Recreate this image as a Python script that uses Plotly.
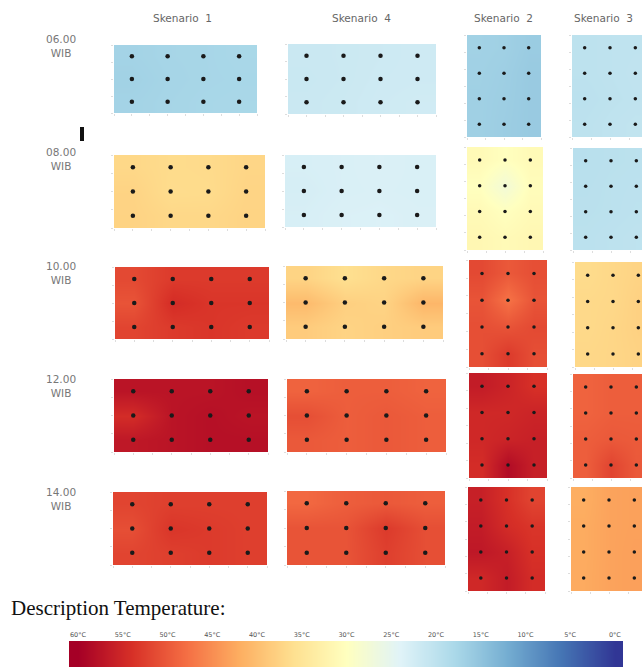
import plotly.graph_objects as go

W, H = 642, 669

# ---------------- data ----------------
scenarios = ["Skenario\u00a0\u00a01", "Skenario\u00a0\u00a04", "Skenario\u00a0\u00a02", "Skenario\u00a0\u00a03"]
times = ["06.00<br>WIB", "08.00<br>WIB", "10.00<br>WIB", "12.00<br>WIB", "14.00<br>WIB"]

# landscape sensor grid (4 columns x 3 rows), portrait grid (3 columns x 4 rows)
land_x = [1, 3, 5, 7]
land_y = [5, 3, 1]          # top -> bottom
port_x = [1, 3, 5]
port_y = [7, 5, 3, 1]       # top -> bottom

# temperatures (deg C) at sensors, rows listed top -> bottom
s1 = [
    [[17.2, 17.5, 17.6, 17.8], [17.0, 17.4, 17.6, 17.7], [17.2, 17.5, 17.7, 17.8]],
    [[37.0, 36.5, 36.6, 37.2], [37.5, 36.4, 36.5, 37.4], [37.6, 37.0, 37.0, 37.5]],
    [[51.5, 53.0, 53.0, 53.0], [50.5, 54.5, 53.5, 53.5], [52.0, 53.0, 53.5, 53.0]],
    [[57.5, 57.5, 57.5, 58.0], [54.5, 57.5, 58.0, 57.5], [57.0, 57.5, 58.0, 58.0]],
    [[52.0, 52.5, 52.5, 52.5], [51.0, 53.5, 53.0, 52.5], [52.0, 52.5, 53.0, 52.5]],
]
s4 = [
    [[21.5, 21.6, 21.8, 22.0], [21.4, 21.6, 21.9, 22.0], [21.5, 21.7, 22.0, 22.2]],
    [[23.0, 23.2, 23.4, 23.2], [22.8, 23.2, 23.3, 23.2], [23.0, 23.4, 23.5, 23.3]],
    [[37.5, 36.0, 37.0, 37.5], [40.5, 38.0, 37.5, 41.0], [38.5, 37.5, 38.0, 38.5]],
    [[49.0, 49.5, 49.5, 49.0], [51.0, 49.5, 50.0, 49.5], [50.0, 49.5, 50.0, 49.5]],
    [[48.5, 49.5, 50.0, 49.5], [50.5, 50.5, 53.0, 51.0], [50.5, 50.5, 52.5, 51.0]],
]
s2 = [
    [[17.0, 16.8, 16.2], [16.9, 16.6, 16.0], [16.8, 16.5, 16.0], [16.8, 16.4, 16.0]],
    [[31.0, 30.0, 31.0], [30.0, 27.5, 30.5], [31.0, 30.0, 31.0], [31.5, 31.0, 31.5]],
    [[51.5, 50.0, 51.0], [50.5, 47.5, 50.5], [51.0, 50.5, 51.5], [51.0, 53.0, 51.0]],
    [[56.5, 55.5, 54.0], [55.0, 55.0, 55.5], [55.0, 55.5, 56.0], [54.5, 58.5, 56.0]],
    [[56.0, 54.0, 52.0], [56.5, 54.5, 53.5], [57.0, 56.0, 54.0], [55.0, 56.5, 54.5]],
]
s3 = [
    [[20.0, 20.2, 20.3], [20.0, 20.2, 20.4], [19.8, 20.1, 20.3], [20.0, 20.3, 20.5]],
    [[19.5, 19.7, 19.8], [19.6, 19.8, 19.9], [19.7, 19.8, 20.0], [19.8, 20.0, 20.2]],
    [[36.5, 37.0, 37.5], [36.8, 37.0, 37.8], [36.8, 37.2, 37.8], [37.0, 37.2, 37.6]],
    [[49.0, 49.5, 49.5], [49.0, 49.5, 49.5], [49.5, 50.0, 49.8], [49.5, 52.0, 50.0]],
    [[42.0, 43.0, 43.2], [42.2, 43.0, 43.2], [42.2, 43.0, 43.3], [42.3, 43.0, 43.3]],
]
panel_values = [s1, s4, s2, s3]

legend_temps = [60, 55, 50, 45, 40, 35, 30, 25, 20, 15, 10, 5, 0]
legend_labels = ["60°C", "55°C", "50°C", "45°C", "40°C", "35°C", "30°C",
                 "25°C", "20°C", "15°C", "10°C", "5°C", "0°C"]

# ---------------- layout geometry (pixels) ----------------
# per column, per row: (x0, x1, y0, y1)
boxes = [
    [(114, 257, 45, 113), (114, 265, 155, 228), (115, 269, 267, 339), (114, 268, 379, 452), (113, 267, 492, 565)],
    [(288, 436, 44, 114), (285, 436, 155, 227), (286, 443, 266, 339), (287, 446, 379, 452), (287, 445, 491, 565)],
    [(467, 541, 35, 137), (467, 543, 147, 250), (469, 547, 260, 367), (469, 547, 373, 478), (468, 545, 487, 591)],
    [(572, 648, 35, 137), (573, 649, 148, 250), (575, 651, 262, 367), (573, 649, 374, 478), (571, 647, 487, 591)],
]

def px(x):
    return x / W

def py(y):
    return 1 - y / H

fig = go.Figure()
layout = {}
n = 0
for c in range(4):
    landscape = c < 2
    sx = land_x if landscape else port_x
    sy = land_y if landscape else port_y
    xmax = 8 if landscape else 6
    ymax = 6 if landscape else 8
    for r in range(5):
        n += 1
        ax = "" if n == 1 else str(n)
        x0, x1, y0, y1 = boxes[c][r]
        vis_x1 = min(x1, W)
        xr = xmax * (vis_x1 - x0) / (x1 - x0)
        z = panel_values[c][r]
        fig.add_trace(go.Heatmap(
            x=sx, y=sy[::-1], z=z[::-1],
            zmin=0, zmax=60, colorscale="RdYlBu", reversescale=True,
            zsmooth="best", showscale=False, hoverinfo="skip",
            xaxis="x" + ax, yaxis="y" + ax))
        dx = [x for _ in sy for x in sx]
        dy = [y for y in sy for _ in sx]
        fig.add_trace(go.Scatter(
            x=dx, y=dy, mode="markers",
            marker=dict(color="#1a1a1a", size=4.5 if landscape else 3.5),
            hoverinfo="skip", showlegend=False,
            xaxis="x" + ax, yaxis="y" + ax))
        layout["xaxis" + ax] = dict(
            domain=[px(x0), px(vis_x1)], range=[0, xr], anchor="y" + ax,
            showgrid=False, zeroline=False, showticklabels=False,
            ticks="outside", ticklen=2, tickcolor="#dddddd", dtick=1 if landscape else 1.5,
            showline=False, fixedrange=True)
        layout["yaxis" + ax] = dict(
            domain=[py(y1), py(y0)], range=[0, ymax], anchor="x" + ax,
            showgrid=False, zeroline=False, showticklabels=False,
            ticks="outside", ticklen=2, tickcolor="#dddddd", dtick=1.5 if landscape else 1.33,
            showline=False, fixedrange=True)

# legend colour bar as its own axes
n += 1
ax = str(n)
cb_x0, cb_x1, cb_y0, cb_y1 = 69, 623, 641, 667
fig.add_trace(go.Heatmap(
    x=legend_temps, y=[0], z=[legend_temps],
    zmin=0, zmax=60, colorscale="RdYlBu", reversescale=True,
    zsmooth="best", showscale=False, hoverinfo="skip",
    xaxis="x" + ax, yaxis="y" + ax))
layout["xaxis" + ax] = dict(
    domain=[px(cb_x0), px(cb_x1)], range=[61, -0.9], anchor="y" + ax,
    side="top", tickvals=legend_temps, ticktext=legend_labels,
    tickfont=dict(size=6.5, color="#555555", family="DejaVu Sans"),
    ticklabelstandoff=2,
    showgrid=False, zeroline=False, ticks="", showline=False, fixedrange=True)
layout["yaxis" + ax] = dict(
    domain=[py(cb_y1), py(cb_y0)], range=[-0.5, 0.5], anchor="x" + ax,
    showgrid=False, zeroline=False, showticklabels=False, ticks="",
    showline=False, fixedrange=True)

annotations = []
title_pos = [183, 361, 503, 603]
for name, cx in zip(scenarios, title_pos):
    annotations.append(dict(
        text=name, x=px(cx), y=py(18), xref="paper", yref="paper",
        showarrow=False, xanchor="center", yanchor="middle",
        font=dict(family="DejaVu Sans", size=10.5, color="#666666")))
row_y = [46, 159, 273, 386, 499]
for t, ry in zip(times, row_y):
    annotations.append(dict(
        text=t, x=px(61), y=py(ry), xref="paper", yref="paper",
        showarrow=False, xanchor="center", yanchor="middle",
        font=dict(family="DejaVu Sans", size=10.5, color="#777777")))
annotations.append(dict(
    text="Description Temperature:", x=px(9), y=py(608), xref="paper", yref="paper",
    showarrow=False, xanchor="left", yanchor="middle",
    font=dict(family="Liberation Serif", size=21, color="#111111")))

shapes = [dict(type="rect", xref="paper", yref="paper",
               x0=px(80), x1=px(84), y0=py(141), y1=py(127),
               fillcolor="#111111", line=dict(width=0))]

fig.update_layout(
    width=W, height=H, margin=dict(l=0, r=0, t=0, b=0),
    paper_bgcolor="white", plot_bgcolor="white",
    showlegend=False, annotations=annotations, shapes=shapes,
    **layout)

fig.write_html("out.html", config={"displayModeBar": False},
               post_script="document.body.style.margin='0';document.body.style.overflow='hidden';")
